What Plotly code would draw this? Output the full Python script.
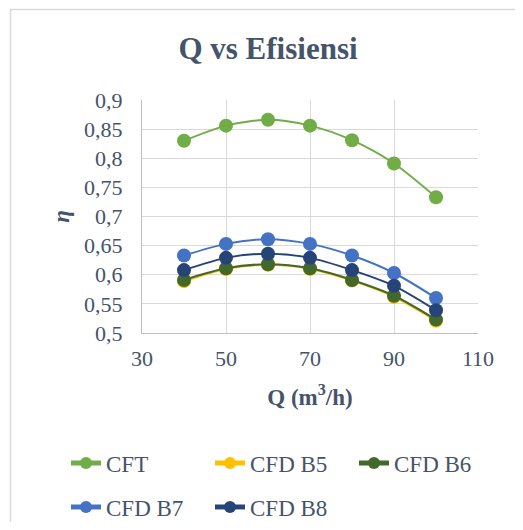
import plotly.graph_objects as go

Q = [40, 50, 60, 70, 80, 90, 100]
series_names = ["CFT", "CFD B5", "CFD B6", "CFD B7", "CFD B8"]
cft = [0.830, 0.856, 0.866, 0.856, 0.831, 0.791, 0.733]
cfd_b5 = [0.589, 0.610, 0.617, 0.610, 0.590, 0.562, 0.521]
cfd_b6 = [0.591, 0.611, 0.618, 0.611, 0.591, 0.564, 0.523]
cfd_b7 = [0.633, 0.653, 0.661, 0.653, 0.633, 0.603, 0.560]
cfd_b8 = [0.608, 0.629, 0.636, 0.629, 0.608, 0.581, 0.539]
colors = ["#70AD47", "#FFC000", "#43682B", "#4472C4", "#264478"]
values = [cft, cfd_b5, cfd_b6, cfd_b7, cfd_b8]
legends = ["legend", "legend", "legend", "legend2", "legend2"]

# page body has an 8px margin; size the figure so it fits the window
OFF = 8
W, H = 523 - 2 * OFF, 530 - 2 * OFF
# plot area in window pixels: x 142..478, y 100..333
L, T = 142 - OFF, 100 - OFF
R, B = W - (478 - OFF), H - (333 - OFF)
pw, ph = W - L - R, H - T - B
def px(xs):
    return (xs - OFF - L) / pw
def py(ys):
    return (H - B - (ys - OFF)) / ph

FONT = "Liberation Serif, Times New Roman, serif"
TXT = "#44546A"

fig = go.Figure()
for name, vals, col, lg in zip(series_names, values, colors, legends):
    fig.add_trace(go.Scatter(
        x=Q, y=vals, name=name, mode="lines+markers",
        line=dict(color=col, width=2, shape="spline", smoothing=0.8),
        marker=dict(color=col, size=14),
        legend=lg,
    ))

fig.update_layout(
    width=W, height=H,
    margin=dict(l=L, r=R, t=T, b=B, autoexpand=False),
    paper_bgcolor="white", plot_bgcolor="white",
    separators=",.",
    font=dict(family=FONT, size=22, color=TXT),
    title=dict(text="<b>Q vs Efisiensi</b>", x=(268 - OFF) / W, xanchor="center",
               y=1 - (48 - OFF) / H, yanchor="middle", font=dict(size=31, color=TXT),
               automargin=False),
    xaxis=dict(range=[30, 110], dtick=20, tick0=30, showgrid=True, gridcolor="#D9D9D9",
               gridwidth=1, showline=True, linecolor="#BFBFBF", linewidth=1,
               zeroline=False, ticks="", ticklabelstandoff=6, automargin=False,
               title=dict(text="<b>Q (m<sup>3</sup>/h)</b>", standoff=18,
                          font=dict(size=23))),
    yaxis=dict(range=[0.5, 0.9], dtick=0.05, tick0=0.5, showgrid=True, gridcolor="#D9D9D9",
               gridwidth=1, showline=True, linecolor="#BFBFBF", linewidth=1,
               zeroline=False, ticks="", ticklabelstandoff=14, automargin=False,
               title=dict(text="<b><i>η</i></b>", standoff=8, font=dict(size=23))),
    legend=dict(orientation="h", x=px(66), xanchor="left", y=py(463), yanchor="middle",
                entrywidth=99, font=dict(size=23), bgcolor="rgba(0,0,0,0)",
                itemsizing="constant"),
    legend2=dict(orientation="h", x=px(66), xanchor="left", y=py(507), yanchor="middle",
                 entrywidth=99, font=dict(size=23), bgcolor="rgba(0,0,0,0)",
                 itemsizing="constant"),
    shapes=[dict(type="rect", xref="paper", yref="paper",
                 x0=px(10.5), x1=px(560), y0=py(560), y1=py(9.5),
                 line=dict(color="#D9D9D9", width=1.5), fillcolor="rgba(0,0,0,0)",
                 layer="below")],
)

fig.write_html("out.html")
